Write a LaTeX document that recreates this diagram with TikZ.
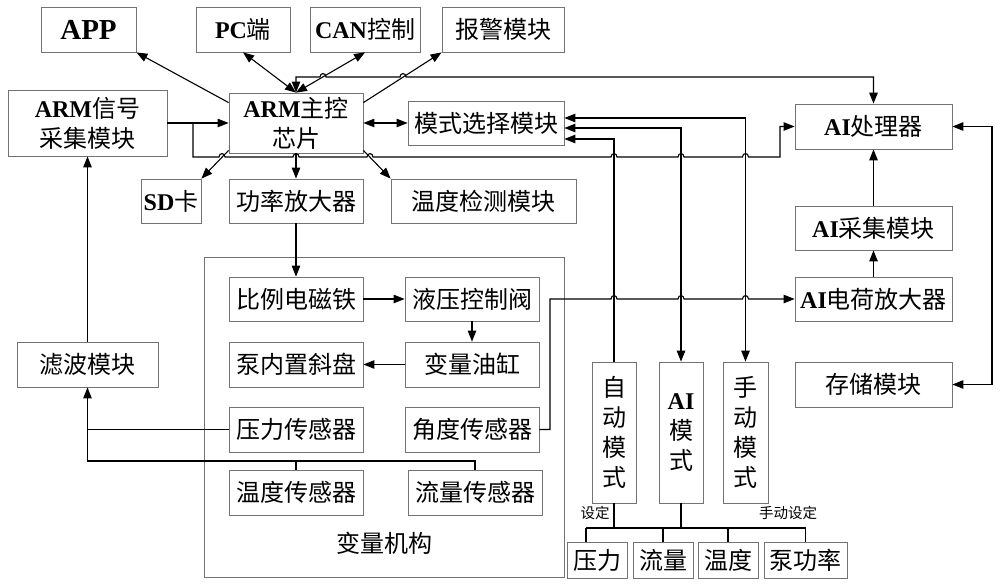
\documentclass[tikz,border=0pt]{standalone}
\usepackage{fontspec}
\setmainfont{Liberation Serif}
\newfontfamily\cjk{Noto Sans CJK SC}
\usetikzlibrary{arrows.meta,calc}
\definecolor{boxgray}{RGB}{115,115,115}
\newcommand\en[1]{{\rmfamily\bfseries #1}}
\newcommand\bx[6]{%
 \pgfmathsetmacro\bw{#4-#2}\pgfmathsetmacro\bh{#5-#3}%
 \pgfmathsetmacro\bcx{(#2+#4)/2}\pgfmathsetmacro\bcy{(#3+#5)/2}%
 \node[box,minimum width=\bw pt,minimum height=\bh pt] (#1) at (\bcx,\bcy) {#6};}
\begin{document}
\begin{tikzpicture}[x=1pt,y=-1pt,
 box/.style={draw=boxgray, line width=0.8pt, inner sep=0pt, align=center, font=\cjk\fontsize{24}{30}\selectfont},
 ln/.style={line width=1.1pt, black},
 arr/.style={ln, -{Triangle[length=11pt,width=8.5pt]}},
 barr/.style={ln, {Triangle[length=11pt,width=8.5pt]}-{Triangle[length=11pt,width=8.5pt]}},
 lbl/.style={inner sep=0pt, font=\cjk\fontsize{14.5}{14.5}\selectfont},
 hop/.style 2 args={insert path={-- (#1-3,#2) .. controls (#1-3,#2-4.5) and (#1+3,#2-4.5) .. (#1+3,#2)}}]
\useasboundingbox (0,0) rectangle (1000,586);
% big frame
\draw[draw=boxgray, line width=0.8pt] (204,257) rectangle (564,577);
% boxes
\bx{app}{41}{7}{136}{52}{\en{\fontsize{29}{30}\selectfont APP}}
\bx{pc}{196}{7}{290}{52}{\en{PC}端}
\bx{can}{310}{7}{420}{52}{\en{CAN}控制}
\bx{alarm}{442}{7}{564}{52}{报警模块}
\bx{armsig}{8}{90}{167}{156}{\en{ARM}信号\\采集模块}
\bx{arm}{229}{93}{363}{153}{\en{ARM}主控\\芯片}
\bx{mode}{408}{101}{564}{145}{模式选择模块}
\bx{aiproc}{795}{104}{952}{149}{\en{AI}处理器}
\bx{sd}{141}{179}{201}{223}{\en{SD}卡}
\bx{pa}{229}{179}{363}{223}{功率放大器}
\bx{tdet}{391}{179}{576}{223}{温度检测模块}
\bx{aicol}{795}{206}{952}{250}{\en{AI}采集模块}
\bx{sol}{229}{277}{363}{321}{比例电磁铁}
\bx{valve}{405}{277}{539}{321}{液压控制阀}
\bx{charge}{795}{277}{952}{321}{\en{AI}电荷放大器}
\bx{swash}{229}{342}{363}{387}{泵内置斜盘}
\bx{cyl}{405}{342}{539}{387}{变量油缸}
\bx{filter}{17}{342}{158}{387}{滤波模块}
\bx{store}{795}{362}{952}{407}{存储模块}
\bx{auto}{592}{362}{636}{503}{自\\动\\模\\式}
\bx{aim}{659}{362}{703}{503}{\en{AI}\\模\\式}
\bx{man}{723}{362}{768}{503}{手\\动\\模\\式}
\bx{psens}{229}{407}{363}{452}{压力传感器}
\bx{asens}{405}{407}{539}{452}{角度传感器}
\bx{tsens}{229}{470}{363}{515}{温度传感器}
\bx{fsens}{408}{470}{542}{515}{流量传感器}
\bx{p}{567}{542}{627}{578}{压力}
\bx{f}{633}{542}{693}{578}{流量}
\bx{t}{698}{542}{758}{578}{温度}
\bx{pw}{764}{542}{847}{578}{泵功率}
% labels
\node[lbl] (lset) at (595,513) {设定};
\node[lbl] (lman) at (788,513) {手动设定};
\node[inner sep=0pt, font=\cjk\fontsize{24}{24}\selectfont] (lvar) at (384,543) {变量机构};
% ARM top connections
\draw[arr] ($(arm.north west)+(0,10)$) -- (app.south east);
\draw[barr] (pc.south) -- (arm.north);
\draw[barr] (can.south) -- (arm.north);
\draw[arr] ($(arm.north east)+(0,10)$) -- (alarm.south west);
\draw[barr] (arm.north) -- (296,77) [hop={323}{77}] [hop={403}{77}] -- (873.5,77) -- (aiproc.north);
\draw[barr] (arm.east) -- (mode.west);
% ARM signal module
\draw[arr] (armsig.east) -- (arm.west);
\draw[arr] (armsig.east) -- (193,123) -- (193,157) [hop={222}{157}] [hop={296}{157}] [hop={370}{157}] [hop={614}{157}] [hop={681}{157}] [hop={745.5}{157}] -- (780,157) -- (780,126.5) -- (aiproc.west);
% ARM bottom
\draw[arr] ($(arm.south west)+(0,-3)$) -- (sd.north east);
\draw[arr] (arm.south) -- (pa.north);
\draw[arr] ($(arm.south east)+(0,-3)$) -- (tdet.north west);
\draw[arr] (pa.south) -- (sol.north);
% variable mechanism
\draw[arr] (sol.east) -- (valve.west);
\draw[arr] (valve.south) -- (cyl.north);
\draw[arr] (cyl.west) -- (swash.east);
\coordinate (j) at (87.5,461);
\draw[arr] (psens.west) -| (filter.south);
\draw[ln] (fsens.north) |- (j) -- (j |- psens.west);
\draw[ln] (tsens.north) -- (tsens.north |- j);
\draw[arr] (filter.north) -- (armsig.south);
\draw[arr] (asens.east) -- (550,429.5) -- (550,299) [hop={614}{299}] [hop={681}{299}] [hop={745.5}{299}] -- (charge.west);
% AI chain
\draw[arr] (charge.north) -- (aicol.south);
\draw[arr] (aicol.north) -- (aiproc.south);
\draw[barr] (aiproc.east) -- (992,126.5) |- (store.east);
% mode lines
\draw[barr] (mode.east |- 0,118) -- (745.5,118) -- (man.north);
\draw[barr] (mode.east |- 0,128) -- (681,128) -- (aim.north);
\draw[arr] (auto.north) -- (614,139) -- (mode.east |- 0,139);
% bottom tree
\coordinate (b1) at (586,528);
\coordinate (b2) at (805.5,528);
\draw[ln] (b1) -- (b2);
\draw[ln] (b1) -- (b1 |- p.north);
\draw[ln] (f.north) -- (f.north |- b1);
\draw[ln] (t.north) -- (t.north |- b1);
\draw[ln] (pw.north) -- (b2);
\draw[ln] (auto.south) -- (auto.south |- b1);
\draw[ln] (aim.south) -- (aim.south |- b1);
\end{tikzpicture}
\end{document}
